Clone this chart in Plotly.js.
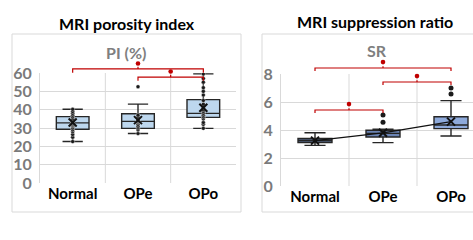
<!DOCTYPE html>
<html><head><meta charset="utf-8">
<script src="https://cdn.plot.ly/plotly-3.0.1.min.js"></script>
<style>html,body{margin:0;padding:0;background:#fff}#c{width:473px;height:240px}</style>
</head><body><div id="c"></div>
<script>
// ---------- data ----------
const categories = ['Normal', 'OPe', 'OPo'];

// Left panel: MRI porosity index PI (%)
const piLowerFence = [22.6, 27, 29.8];
const piQ1         = [29.3, 29.8, 35.8];
const piMedian     = [32.8, 33.6, 38];
const piQ3         = [36.2, 37.8, 45.5];
const piUpperFence = [40.2, 43, 59.5];
const piMean       = [33, 34.3, 41];
const piPointsNormal = [22.6, 25, 26.5, 28, 29, 30, 31, 31.5, 32, 32.5, 33, 33.5, 34, 34.5, 35, 36, 37, 38, 39, 40.2];
const piPointsOPe    = [27, 29, 30, 31, 32, 33, 33.5, 34, 35, 36, 37, 52.5];
const piPointsOPo    = [29.8, 32, 33, 35, 36, 37, 38, 39, 40, 41, 42, 43, 45, 48, 50, 52, 55, 57, 59.5];
const piSigPairs   = [[0, 2], [1, 2]];
const piSigHeights = [62.2, 57.8];

// Right panel: MRI suppression ratio SR
const srLowerFence = [2.9, 3.1, 3.57];
const srQ1         = [3.1, 3.5, 4.1];
const srMedian     = [3.25, 3.76, 4.36];
const srQ3         = [3.4, 3.98, 4.95];
const srUpperFence = [3.8, 4.05, 6.1];
const srMean       = [3.24, 3.8, 4.6];
const srOutliersX  = ['OPe', 'OPe', 'OPo', 'OPo'];
const srOutliersY  = [4.55, 5.07, 6.57, 7.0];
const srSigPairs   = [[0, 2], [1, 2], [0, 1]];
const srSigHeights = [8.43, 7.43, 5.43];

const piTicks = [0, 10, 20, 30, 40, 50, 60];
const srTicks = [0, 2, 4, 6, 8];

// ---------- styling ----------
const W = 473, H = 240;
const FONT = 'Lato, "DejaVu Sans", sans-serif';
const GRID = '#d9d9d9';
const RED = '#c00000';
const leftFills = ['#bdd7ee', '#bdd7ee', '#bdd7ee'];
const rightFills = ['#4f5f7b', '#6b84b4', '#8eaadb'];

const px = v => v / W, py = v => 1 - v / H;

const xr1 = [-0.5, 2.5], yr1 = [0, 60];
const xr2 = [-0.5, -0.5 + 192 / 68], yr2 = [0, 8];

const traces = [];
function addBoxes(xa, ya, lf, q1, med, q3, uf, fills) {
  categories.forEach((c, i) => {
    traces.push({
      type: 'box', xaxis: xa, yaxis: ya, x: [c],
      lowerfence: [lf[i]], q1: [q1[i]], median: [med[i]], q3: [q3[i]], upperfence: [uf[i]],
      boxpoints: false, width: 0.5, whiskerwidth: 0.62,
      fillcolor: fills[i], line: {color: '#262626', width: 1.4},
      showlegend: false, hoverinfo: 'skip'
    });
  });
}
addBoxes('x', 'y', piLowerFence, piQ1, piMedian, piQ3, piUpperFence, leftFills);
addBoxes('x2', 'y2', srLowerFence, srQ1, srMedian, srQ3, srUpperFence, rightFills);

// points on left panel
[piPointsNormal, piPointsOPe, piPointsOPo].forEach((pts, i) => {
  traces.push({type: 'scatter', mode: 'markers', xaxis: 'x', yaxis: 'y',
    x: pts.map(() => categories[i]), y: pts,
    marker: {size: 4, color: '#1a1a1a', line: {color: '#ffffff', width: 0.4}},
    showlegend: false, hoverinfo: 'skip'});
});
// means left
traces.push({type: 'scatter', mode: 'markers', xaxis: 'x', yaxis: 'y', x: categories, y: piMean,
  marker: {symbol: 'x-thin-open', size: 8, color: '#111', line: {color: '#111', width: 2}}, showlegend: false, hoverinfo: 'skip'});
// outliers right
traces.push({type: 'scatter', mode: 'markers', xaxis: 'x2', yaxis: 'y2', x: srOutliersX, y: srOutliersY,
  marker: {size: 5, color: '#1a1a1a'}, showlegend: false, hoverinfo: 'skip'});
// means right with line
traces.push({type: 'scatter', mode: 'lines+markers', xaxis: 'x2', yaxis: 'y2', x: categories, y: srMean,
  line: {color: '#111', width: 1.3},
  marker: {symbol: 'x-thin-open', size: 8, color: '#111', line: {color: '#111', width: 2}}, showlegend: false, hoverinfo: 'skip'});

// significance brackets
const shapes = [];
function addBrackets(xa, ya, xr, yr, pairs, heights, drop, dotOff) {
  const dx = i => (i - xr[0]) / (xr[1] - xr[0]);
  const dy = v => (v - yr[0]) / (yr[1] - yr[0]);
  pairs.forEach((p, k) => {
    const h = heights[k];
    const mid = (p[0] + p[1]) / 2;
    shapes.push({type: 'path', xref: xa + ' domain', yref: ya + ' domain',
      path: `M ${dx(p[0])} ${dy(h - drop)} L ${dx(p[0])} ${dy(h)} L ${dx(p[1])} ${dy(h)} L ${dx(p[1])} ${dy(h - drop)}`,
      line: {color: RED, width: 1.2}});
    shapes.push({type: 'line', xref: xa + ' domain', yref: ya + ' domain',
      x0: dx(mid), x1: dx(mid), y0: dy(h), y1: dy(h + drop * 0.6),
      line: {color: RED, width: 1.2}});
    shapes.push({type: 'circle', xref: xa + ' domain', yref: ya + ' domain',
      xsizemode: 'pixel', ysizemode: 'pixel', xanchor: dx(mid), yanchor: dy(h + dotOff),
      x0: -2.3, x1: 2.3, y0: -2.3, y1: 2.3, fillcolor: RED, line: {color: RED, width: 0}});
  });
}
addBrackets('x', 'y', xr1, yr1, piSigPairs, piSigHeights, 2.0, 3.0);
addBrackets('x2', 'y2', xr2, yr2, srSigPairs, srSigHeights, 0.22, 0.42);

// vertical separators between categories
[0.5, 1.5].forEach(v => {
  shapes.push({type: 'line', xref: 'x', yref: 'y', x0: v, x1: v, y0: yr1[0], y1: yr1[1], line: {color: GRID, width: 1}, layer: 'below'});
  shapes.push({type: 'line', xref: 'x2', yref: 'y2', x0: v, x1: v, y0: yr2[0], y1: yr2[1], line: {color: GRID, width: 1}, layer: 'below'});
});
// panel frames
shapes.push({type: 'rect', xref: 'paper', yref: 'paper', x0: px(12), x1: px(241), y0: py(212), y1: py(34), line: {color: GRID, width: 1}, layer: 'below'});
shapes.push({type: 'rect', xref: 'paper', yref: 'paper', x0: px(262), x1: px(480), y0: py(212), y1: py(34), line: {color: GRID, width: 1}, layer: 'below'});

const xaxisBase = {type: 'category', categoryorder: 'array', categoryarray: categories,
  showgrid: false, zeroline: false, showline: false, ticks: '', fixedrange: true,
  tickfont: {family: FONT, size: 15, color: '#000', weight: 'bold'}};
const yaxisBase = {showgrid: true, gridcolor: GRID, gridwidth: 1, zeroline: false, showline: true,
  linecolor: GRID, ticks: '', fixedrange: true, ticklabelstandoff: 4,
  tickfont: {family: FONT, size: 16, color: '#7a7a7a', weight: 'bold'}};

const annotations = [
  {text: 'MRI porosity index', x: px(127), y: py(23), size: 16, color: '#000'},
  {text: 'PI (%)', x: px(126), y: py(52), size: 16, color: '#7f7f7f'},
  {text: 'MRI suppression ratio', x: px(375), y: py(21), size: 16, color: '#000'},
  {text: 'SR', x: px(377), y: py(50), size: 16, color: '#7f7f7f'}
].map(a => ({text: a.text, x: a.x, y: a.y, xref: 'paper', yref: 'paper', xanchor: 'center', yanchor: 'middle',
  showarrow: false, font: {family: FONT, size: a.size, color: a.color, weight: 'bold'}}));

const layout = {
  width: W, height: H, margin: {l: 0, r: 0, t: 0, b: 0},
  paper_bgcolor: '#fff', plot_bgcolor: 'rgba(0,0,0,0)', showlegend: false,
  xaxis: Object.assign({}, xaxisBase, {domain: [px(40), px(236)], range: xr1, anchor: 'y'}),
  yaxis: Object.assign({}, yaxisBase, {domain: [py(183), py(73)], range: yr1, tickvals: piTicks, anchor: 'x'}),
  xaxis2: Object.assign({}, xaxisBase, {domain: [px(281), 1], range: xr2, anchor: 'y2'}),
  yaxis2: Object.assign({}, yaxisBase, {domain: [py(186), py(74)], range: yr2, tickvals: srTicks, anchor: 'x2'}),
  shapes: shapes, annotations: annotations
};
Plotly.newPlot('c', traces, layout, {staticPlot: true, displayModeBar: false});
</script></body></html>
